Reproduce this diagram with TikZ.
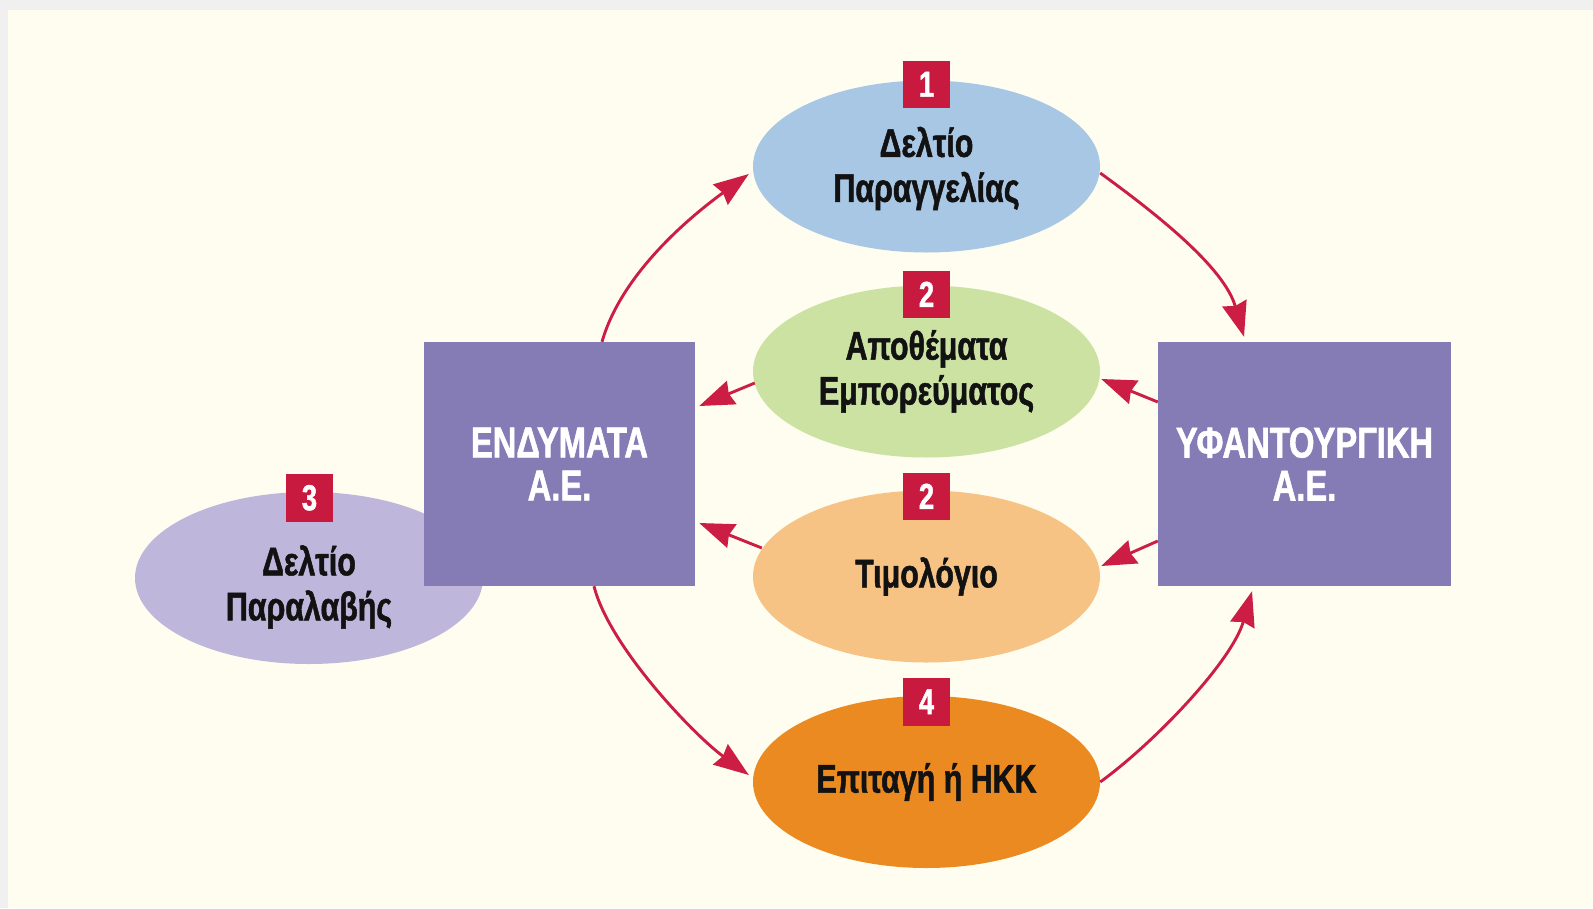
\documentclass[tikz,border=0pt]{standalone}
\usepackage{fontspec}
\newfontfamily\cf{Liberation Sans}[FakeStretch=0.76, BoldFeatures={FakeBold=1.3}]
\usetikzlibrary{shapes.geometric,arrows.meta,calc}
\definecolor{bggray}{HTML}{F0F0F0}
\definecolor{cream}{HTML}{FEFDEF}
\definecolor{eblue}{HTML}{A8C7E5}
\definecolor{egreen}{HTML}{CCE2A3}
\definecolor{elorange}{HTML}{F7C385}
\definecolor{eorange}{HTML}{EC8A22}
\definecolor{elilac}{HTML}{BEB7DB}
\definecolor{boxpurple}{HTML}{857CB5}
\definecolor{arrred}{HTML}{CC1E45}
\definecolor{badgered}{HTML}{C8193F}
\tikzset{
  oval/.style={ellipse, draw=none, minimum width=347, minimum height=172, inner sep=0pt,
    align=center, text=black!93, font=\cf\bfseries\fontsize{40}{45}\selectfont},
  company/.style={rectangle, draw=none, fill=boxpurple, minimum height=244, inner sep=0pt,
    align=center, text=white, font=\cf\bfseries\fontsize{43}{43}\selectfont},
  badge/.style={rectangle, draw=none, fill=badgered, minimum size=47.5, inner sep=0pt,
    text=white, font=\cf\bfseries\fontsize{36}{36}\selectfont},
  arr/.style={draw=arrred, line width=2.9pt, -{Stealth[length=35pt,width=25pt,inset=3pt]}}
}
\begin{document}
\begin{tikzpicture}[x=1pt,y=-1pt]
\useasboundingbox (0,0) rectangle (1593,908);
\fill[bggray] (0,0) rectangle (1593,908);
\fill[cream] (8,10) rectangle (1593,908);

% lilac ellipse behind the box
\node[oval, fill=elilac, minimum width=348] (e5) at (309,578) {\rule{0pt}{48pt}Δελτίο\\Παραλαβής};

% companies
\node[company, minimum width=271] (b1) at (559.5,464) {ΕΝΔΥΜΑΤΑ\\Α.Ε.};
\node[company, minimum width=293] (b2) at (1304.5,464) {ΥΦΑΝΤΟΥΡΓΙΚΗ\\Α.Ε.};

% documents
\node[oval, fill=eblue] (e1) at (926.5,166.5) {\rule{0pt}{34pt}Δελτίο\\Παραγγελίας};
\node[oval, fill=egreen] (e2) at (926.5,371.5) {Αποθέματα\\Εμπορεύματος};
\node[oval, fill=elorange] (e3) at (926.5,576.5) {Τιμολόγιο};
\node[oval, fill=eorange] (e4) at (926.5,782) {Επιταγή ή ΗΚΚ};

% badges
\node[badge] (n1) at ($(e1.north)+(0,4)$) {1};
\node[badge] (n2a) at ($(e2.north)+(0,9)$) {2};
\node[badge] (n2b) at ($(e3.north)+(0,6)$) {2};
\node[badge] (n4) at ($(e4.north)+(0,6)$) {4};
\node[badge] (n3) at ($(e5.north)+(0.5,6)$) {3};

% connectors
\draw[arr] ($(b1.north)+(42.5,0)$) .. controls +(20,-70) and +(-55,40) .. ($(e1.west)+(-4,7.5)$);
\draw[arr] ($(e1.east)+(0,6.5)$) .. controls +(55,40) and +(-20,-70) .. ($(b2.north)+(-60.5,-5)$);
\draw[arr] ($(b2.west)+(0,-62)$) -- ($(e2.east)+(1,7.5)$);
\draw[arr] ($(e2.west)+(2,11.5)$) -- ($(b1.east)+(4,-58)$);
\draw[arr] ($(b2.west)+(0,77)$) -- ($(e3.east)+(1,-10.5)$);
\draw[arr] ($(e3.west)+(9,-28.5)$) -- ($(b1.east)+(4,59)$);
\draw[arr] ($(b1.south)+(34.5,0)$) .. controls +(15,60) and +(-55,-40) .. ($(e4.west)+(-4,-7)$);
\draw[arr] ($(e4.east)+(0,0)$) .. controls +(55,-40) and +(-20,70) .. ($(b2.south)+(-52.5,5)$);
\end{tikzpicture}
\end{document}
